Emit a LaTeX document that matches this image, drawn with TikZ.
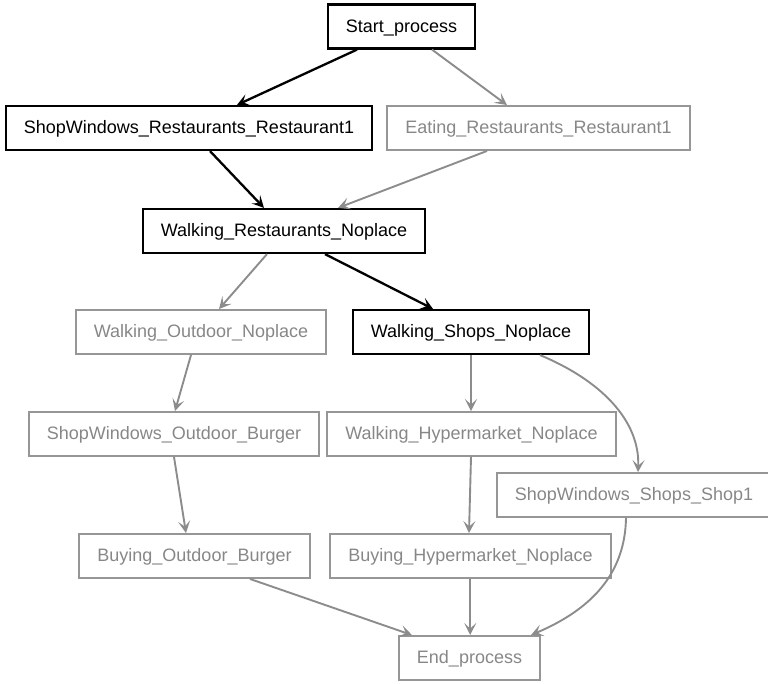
\documentclass[tikz,border=0pt]{standalone}
\usepackage{fontspec}
\setmainfont{Liberation Sans}
\usetikzlibrary{arrows.meta}
\definecolor{edgegray}{RGB}{140,140,140}
\definecolor{boxgray}{RGB}{150,150,150}
\definecolor{textgray}{RGB}{135,135,135}
\tikzset{
  x=1pt, y=-1pt,
  box/.style={draw, rectangle, minimum height=44pt, inner xsep=18pt, inner ysep=0pt, text height=13pt, text depth=2pt, font=\fontsize{18pt}{20pt}\selectfont},
  active/.style={box, draw=black, line width=2.2pt, text=black},
  inactive/.style={box, draw=boxgray, line width=1.9pt, text=textgray},
  tipstyle/.style={-{Stealth[length=12pt,width=12pt,inset=5.5pt]}},
  actedge/.style={tipstyle, draw=black, line width=2.3pt},
  inedge/.style={tipstyle, draw=edgegray, line width=1.9pt},
}
\begin{document}
\begin{tikzpicture}
\useasboundingbox (0,0) rectangle (768,683);
\node[active]   (start) at (401.5,26.5) {Start\_process};
\node[active]   (swrr)  at (189,128) {ShopWindows\_Restaurants\_Restaurant1};
\node[inactive] (err)   at (538.5,128) {Eating\_Restaurants\_Restaurant1};
\node[active]   (wrn)   at (284,231) {Walking\_Restaurants\_Noplace};
\node[inactive] (won)   at (201,332) {Walking\_Outdoor\_Noplace};
\node[active]   (wsn)   at (471,332) {Walking\_Shops\_Noplace};
\node[inactive] (swob)  at (174,434) {ShopWindows\_Outdoor\_Burger};
\node[inactive] (whn)   at (471.5,434) {Walking\_Hypermarket\_Noplace};
\node[inactive] (swss)  at (634,495) {ShopWindows\_Shops\_Shop1};
\node[inactive] (bob)   at (194.5,556) {Buying\_Outdoor\_Burger};
\node[inactive] (bhn)   at (470.5,556) {Buying\_Hypermarket\_Noplace};
\node[inactive] (end)   at (469.5,658) {End\_process};

\draw[actedge] ([xshift=-44.5pt]start.south) -- ([xshift=48pt]swrr.north);
\draw[inedge]  ([xshift=30.5pt]start.south) -- ([xshift=-31.5pt]err.north);
\draw[actedge] ([xshift=21pt]swrr.south) -- ([xshift=-20pt]wrn.north);
\draw[inedge]  ([xshift=-51.5pt]err.south) -- ([xshift=54pt]wrn.north);
\draw[inedge]  ([xshift=-17pt]wrn.south) -- ([xshift=18pt]won.north);
\draw[actedge] ([xshift=41pt]wrn.south) -- ([xshift=-38pt]wsn.north);
\draw[inedge]  ([xshift=-10pt]won.south) -- ([xshift=1pt]swob.north);
\draw[inedge]  (wsn.south) -- (wsn.south |- whn.north);
\draw[inedge]  ([xshift=69pt]wsn.south) .. controls (600,380) and (640,420) .. ([xshift=4pt]swss.north);
\draw[inedge]  (swob.south) -- ([xshift=-8.5pt]bob.north);
\draw[inedge]  ([xshift=-0.5pt]whn.south) -- ([xshift=-1.5pt]bhn.north);
\draw[inedge]  ([xshift=55.5pt]bob.south) -- ([xshift=-57.5pt]end.north);
\draw[inedge]  ([xshift=-0.3pt]bhn.south) -- ([xshift=-0.3pt]bhn.south |- end.north);
\draw[inedge]  ([xshift=-8pt]swss.south) .. controls (625,575) and (590,610) .. ([xshift=61.5pt]end.north);
\end{tikzpicture}
\end{document}
